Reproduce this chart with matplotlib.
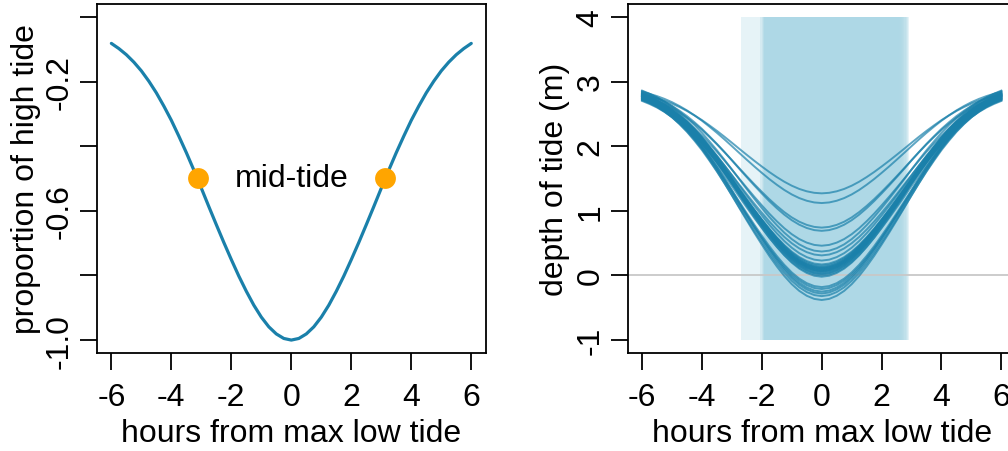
import matplotlib
matplotlib.use("Agg")
import matplotlib.pyplot as plt
import numpy as np

plt.rcParams['font.family'] = ['Liberation Sans', 'DejaVu Sans']
plt.rcParams['axes.unicode_minus'] = False
plt.rcParams['font.size'] = 23

# tide profile (proportion of high tide)
hours = [-6, -5.75, -5.5, -5.25, -5, -4.75, -4.5, -4.25, -4, -3.75, -3.5, -3.25,
         -3, -2.75, -2.5, -2.25, -2, -1.75, -1.5, -1.25, -1, -0.75, -0.5, -0.25,
         0, 0.25, 0.5, 0.75, 1, 1.25, 1.5, 1.75, 2, 2.25, 2.5, 2.75,
         3, 3.25, 3.5, 3.75, 4, 4.25, 4.5, 4.75, 5, 5.25, 5.5, 5.75, 6]
prop = [-0.082, -0.098, -0.117, -0.140, -0.167, -0.199, -0.235, -0.276, -0.320,
        -0.369, -0.420, -0.474, -0.530, -0.587, -0.643, -0.698, -0.751, -0.802,
        -0.849, -0.892, -0.929, -0.959, -0.981, -0.995, -1.0,
        -0.995, -0.981, -0.959, -0.929, -0.892, -0.849, -0.802, -0.751, -0.698,
        -0.643, -0.587, -0.530, -0.474, -0.420, -0.369, -0.320, -0.276, -0.235,
        -0.199, -0.167, -0.140, -0.117, -0.098, -0.082]
mid_x = [-3.12, 3.12]
mid_y = [-0.5, -0.5]

# daily tide curves (right panel): depth at max low tide and at +/-6 h
lows = [1.27, 1.12, 0.74, 0.69, 0.46, 0.37, 0.31, 0.23,
        0.17, 0.15, 0.13, 0.12, 0.11, 0.10, 0.09, 0.08, 0.07, 0.06, 0.05,
        0.03, 0.02, 0.0, -0.02,
        -0.18, -0.21, -0.25, -0.28, -0.32, -0.38]
ends = [2.80, 2.84, 2.78, 2.82, 2.76, 2.85, 2.74, 2.80,
        2.72, 2.77, 2.83, 2.75, 2.79, 2.71, 2.81, 2.74, 2.86, 2.73, 2.78,
        2.76, 2.82, 2.70, 2.79,
        2.75, 2.72, 2.80, 2.77, 2.73, 2.78]

# exposure windows shaded in the right panel (hours)
win_start = [-2.68, -2.05, -2.0, -1.97, -1.95, -1.93, -1.92, -1.92, -1.92, -1.92]
win_end = [2.93, 2.88, 2.84, 2.80, 2.76, 2.72, 2.68, 2.64, 2.60, 2.57]

line_col = '#1a80aa'

fig = plt.figure(figsize=(10.08, 4.52), dpi=100)
ax1 = fig.add_axes([0.0962, 0.2168, 0.3856, 0.7722])
ax2 = fig.add_axes([0.6227, 0.2168, 0.385, 0.7722])

# left panel
ax1.plot(hours, prop, color=line_col, lw=2.3, solid_capstyle='round', zorder=2)
ax1.plot(mid_x, mid_y, 'o', color='#ffa500', ms=15, mec='none', zorder=3)
ax1.text(0, -0.5, 'mid-tide', ha='center', va='center')
ax1.set_xlim(-6.48, 6.48)
ax1.set_ylim(-1.04, 0.04)
ax1.set_yticks([0, -0.2, -0.4, -0.6, -0.8, -1.0])
ax1.set_yticklabels(['', '-0.2', '', '-0.6', '', '-1.0'])
ax1.set_ylabel('proportion of high tide', labelpad=3)

# right panel
prop_arr = np.array(prop)
frac = (prop_arr - prop_arr.min()) / (prop_arr[0] - prop_arr.min())
for s, e in zip(win_start, win_end):
    ax2.fill_between([s, e], -1, 4, color='#add8e6', alpha=0.3, lw=0, zorder=0)
ax2.axhline(0, color='#c8c8c8', lw=1.3, zorder=1)
for lo, hi in zip(lows, ends):
    ax2.plot(hours, lo + (hi - lo) * frac, color=line_col, alpha=0.7, lw=1.4, zorder=2)
ax2.set_xlim(-6.48, 6.48)
ax2.set_ylim(-1.2, 4.2)
ax2.set_yticks([-1, 0, 1, 2, 3, 4])
ax2.set_yticklabels(['-1', '0', '1', '2', '3', '4'])
ax2.set_ylabel('depth of tide (m)', labelpad=4)

for ax in (ax1, ax2):
    ax.set_xticks([-6, -4, -2, 0, 2, 4, 6])
    ax.set_xticklabels(['-6', '-4', '-2', '0', '2', '4', '6'])
    ax.set_xlabel('hours from max low tide', labelpad=4)
    ax.tick_params(direction='out', length=12, width=1.3, pad=9, labelsize=23)
    ax.tick_params(axis='y', pad=4)
    for lab in ax.get_yticklabels():
        lab.set_rotation(90)
        lab.set_va('center')
    for sp in ax.spines.values():
        sp.set_linewidth(1.3)

fig.savefig('out.png', dpi=100)
